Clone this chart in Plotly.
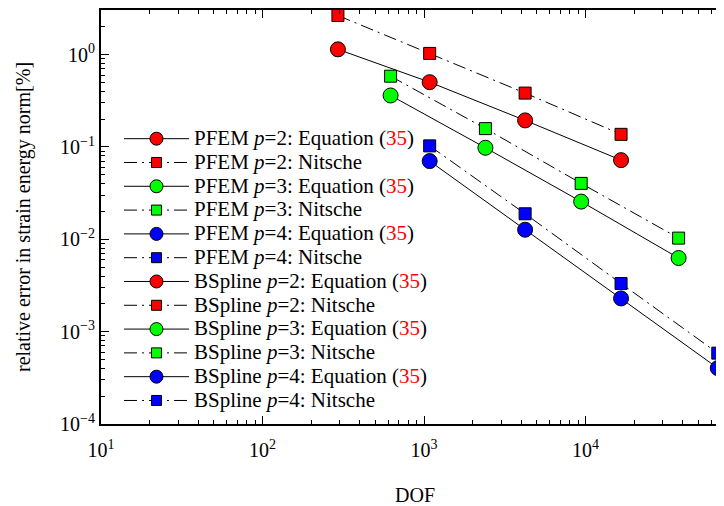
import plotly.graph_objects as go

# DOF values
dof_p2 = [293, 1084, 4227, 16600]
dof_p3 = [621, 2400, 9400, 37700]
dof_p4 = [1084, 4227, 16600, 65900]

# relative error in strain energy norm [%]
pfem_p2_eq = [1.14, 0.503, 0.194, 0.072]
pfem_p2_ni = [2.65, 1.03, 0.383, 0.137]
pfem_p3_eq = [0.361, 0.098, 0.0256, 0.00627]
pfem_p3_ni = [0.584, 0.158, 0.0403, 0.0103]
pfem_p4_eq = [0.0703, 0.0127, 0.00229, 0.000403]
pfem_p4_ni = [0.1027, 0.0189, 0.00332, 0.000585]

# BSpline series (no marks visible in the reference's plotted range)
bspline_dof = []
bspline_p2_eq = []
bspline_p2_ni = []
bspline_p3_eq = []
bspline_p3_ni = []
bspline_p4_eq = []
bspline_p4_ni = []

# tick labels
x_tickvals = [10, 100, 1000, 10000, 100000]
x_ticktext = ["10<sup>1</sup>", "10<sup>2</sup>", "10<sup>3</sup>", "10<sup>4</sup>", "10<sup>5</sup>"]
y_tickvals = [1e-4, 1e-3, 1e-2, 1e-1, 1]
y_ticktext = ["10<sup>\u22124</sup>", "10<sup>\u22123</sup>", "10<sup>\u22122</sup>",
              "10<sup>\u22121</sup>", "10<sup>0</sup>"]

RED = "#ff0000"
GREEN = "#00ff00"
BLUE = "#0000ff"
FONT = "Liberation Serif"
REF = ' (<span style="color:#ff0000">35</span>)'
DASHDOT = "13px,5px,2px,5px"


def lbl(s):
    return '<span style="font-size:21px">' + s + '</span>'


series = [
    ("PFEM <i>p</i>=2: Equation" + REF, dof_p2, pfem_p2_eq, RED, "circle"),
    ("PFEM <i>p</i>=2: Nitsche", dof_p2, pfem_p2_ni, RED, "square"),
    ("PFEM <i>p</i>=3: Equation" + REF, dof_p3, pfem_p3_eq, GREEN, "circle"),
    ("PFEM <i>p</i>=3: Nitsche", dof_p3, pfem_p3_ni, GREEN, "square"),
    ("PFEM <i>p</i>=4: Equation" + REF, dof_p4, pfem_p4_eq, BLUE, "circle"),
    ("PFEM <i>p</i>=4: Nitsche", dof_p4, pfem_p4_ni, BLUE, "square"),
    ("BSpline <i>p</i>=2: Equation" + REF, bspline_dof, bspline_p2_eq, RED, "circle"),
    ("BSpline <i>p</i>=2: Nitsche", bspline_dof, bspline_p2_ni, RED, "square"),
    ("BSpline <i>p</i>=3: Equation" + REF, bspline_dof, bspline_p3_eq, GREEN, "circle"),
    ("BSpline <i>p</i>=3: Nitsche", bspline_dof, bspline_p3_ni, GREEN, "square"),
    ("BSpline <i>p</i>=4: Equation" + REF, bspline_dof, bspline_p4_eq, BLUE, "circle"),
    ("BSpline <i>p</i>=4: Nitsche", bspline_dof, bspline_p4_ni, BLUE, "square"),
]

fig = go.Figure()
for i, (name, xs, ys, col, sym) in enumerate(series):
    is_circle = sym == "circle"
    dash = "solid" if is_circle else DASHDOT
    grp = "g%d" % i
    # data trace
    if xs:
        fig.add_trace(go.Scatter(
            x=xs, y=ys, mode="lines+markers", showlegend=False, legendgroup=grp,
            line=dict(color="black", width=1, dash=dash),
            marker=dict(symbol=sym, size=15 if is_circle else 12, color=col,
                        line=dict(color="black", width=1)),
        ))
    # legend entry (smaller legend symbols, as in the reference)
    fig.add_trace(go.Scatter(
        x=[None], y=[None], name=lbl(name), mode="lines+markers", legendgroup=grp,
        line=dict(color="black", width=1, dash=dash),
        marker=dict(symbol=sym, size=13 if is_circle else 10, color=col,
                    line=dict(color="black", width=1)),
    ))

axis_common = dict(
    type="log", showgrid=False, zeroline=False, showline=True,
    linecolor="black", linewidth=2, ticks="inside", ticklen=8, tickwidth=1,
    tickcolor="black", tickfont=dict(family=FONT, size=20, color="black"),
    tickmode="array",
    minor=dict(ticks="inside", ticklen=4, tickcolor="black", showgrid=False,
               dtick="D1"),
)

fig.update_layout(
    width=724, height=506,
    margin=dict(l=93, r=0, t=0, b=90),
    paper_bgcolor="white", plot_bgcolor="white",
    font=dict(family=FONT, size=16, color="black"),
    showlegend=True,
    legend=dict(x=0.0285, y=0.73, xanchor="left", yanchor="top",
                bgcolor="rgba(0,0,0,0)", borderwidth=0,
                font=dict(family=FONT, size=16, color="black"),
                itemwidth=65, tracegroupgap=0, groupclick="toggleitem"),
    xaxis=dict(axis_common, range=[1, 4.907], mirror="allticks",
               tickvals=x_tickvals, ticktext=x_ticktext, ticklabelstandoff=7),
    yaxis=dict(axis_common, range=[-4, 0.483], mirror=False,
               tickvals=y_tickvals, ticktext=y_ticktext),
    annotations=[
        dict(text="DOF", xref="paper", yref="paper", x=0.4976, y=-0.1707,
             xanchor="center", yanchor="middle", showarrow=False,
             font=dict(family=FONT, size=20, color="black")),
        dict(text="relative error in strain energy norm[%]", xref="paper", yref="paper",
             x=-0.1236, y=0.5, xanchor="center", yanchor="middle", textangle=-90,
             showarrow=False, font=dict(family=FONT, size=20, color="black")),
    ],
)

fig.write_html("out.html")
